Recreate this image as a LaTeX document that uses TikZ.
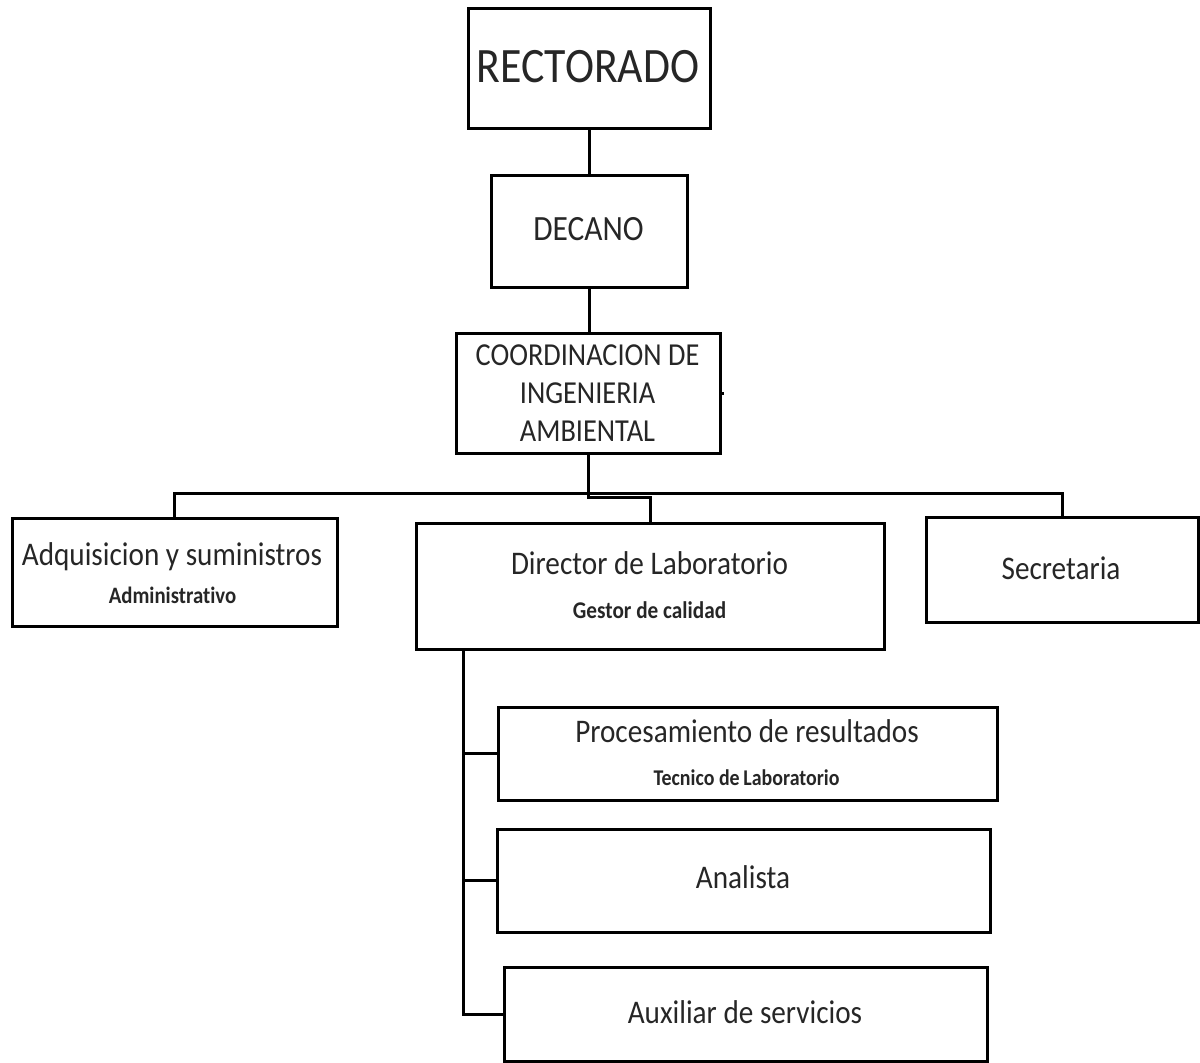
\documentclass[tikz,border=0pt]{standalone}
\usepackage{fontspec}
\setmainfont{Carlito}[FakeStretch=0.885, Ligatures=NoCommon]
\begin{document}
\begin{tikzpicture}[x=1pt,y=-1pt,
  box/.style={draw, line width=3pt, rectangle, inner sep=0pt, outer sep=0pt},
  link/.style={line width=3pt},
  lbl/.style={anchor=base, inner sep=0pt, text=black!85},
  huge/.style={lbl, font=\fontsize{49.5}{59}\selectfont},
  big/.style={lbl, font=\fontsize{35.5}{42}\selectfont},
  mid/.style={lbl, font=\fontsize{32}{39}\selectfont},
  role/.style={lbl, font=\fontsize{33}{40}\selectfont},
  sub/.style={lbl, font=\bfseries\fontsize{23.5}{28}\selectfont},
]
\useasboundingbox (0,0) rectangle (1200,1063);

% boxes of the organisation chart
\node[box, minimum width=242pt, minimum height=120pt] (rect)  at (589,68)     {};
\node[box, minimum width=196pt, minimum height=112pt] (dec)   at (589,231)    {};
\node[box, minimum width=264pt, minimum height=120pt] (coord) at (588,393)    {};
\node[box, minimum width=325pt, minimum height=108pt] (adq)   at (174.5,572)  {};
\node[box, minimum width=468pt, minimum height=126pt] (dir)   at (650,586)    {};
\node[box, minimum width=272pt, minimum height=105pt] (sec)   at (1062,569.5) {};
\node[box, minimum width=499pt, minimum height=93pt]  (proc)  at (747.5,753.5){};
\node[box, minimum width=493pt, minimum height=103pt] (ana)   at (743.5,880.5){};
\node[box, minimum width=483pt, minimum height=94pt]  (aux)   at (745.5,1014) {};

% labels
\node[huge] (trect) at (588,82)  {RECTORADO};
\node[big]  (tdec)  at (588.5,240) {DECANO};
\node[mid]  (tc1)   at (587.5,365) {COORDINACION DE};
\node[mid]  (tc2)   at (587.5,403) {INGENIERIA};
\node[mid]  (tc3)   at (587.5,441) {AMBIENTAL};
\node[role] (tadq)  at (172,565) {Adquisicion y suministros};
\node[sub]  (sadq)  at (172.5,603) {Administrativo};
\node[role] (tdir)  at (649.5,574) {Director de Laboratorio};
\node[sub, font=\bfseries\fontsize{24}{28}\selectfont] (sdir) at (649.5,618) {Gestor de calidad};
\node[role] (tsec)  at (1061,579) {Secretaria};
\node[role] (tproc) at (747,742) {Procesamiento de resultados};
\node[sub, font=\bfseries\fontsize{22.5}{27}\selectfont] (sproc) at (746.5,785) {Tecnico de\,Laboratorio};
\node[role] (tana)  at (743,888) {Analista};
\node[role] (taux)  at (745,1023) {Auxiliar de servicios};

% helper coordinates for the branch lines
\coordinate (bus)   at (0,493);
\coordinate (jog)   at (0,497);
\coordinate (spine) at (463,0);

% connectors
\draw[link] (rect.south) -- (rect.south |- dec.north);
\draw[link] (dec.south) -- (dec.south |- coord.north);
\draw[link] (coord.south) -- (coord.south |- jog) -- (dir.north |- jog) -- (dir.north);
\draw[link] (adq.north) -- (adq.north |- bus) -- (sec.north |- bus) -- (sec.north);
\draw[link] (spine |- dir.south) -- (spine |- aux.west) -- (aux.west);
\draw[link] (spine |- proc.west) -- (proc.west);
\draw[link] (spine |- ana.west) -- (ana.west);
\draw[link] (coord.east) -- ++(4,0);
\end{tikzpicture}
\end{document}
